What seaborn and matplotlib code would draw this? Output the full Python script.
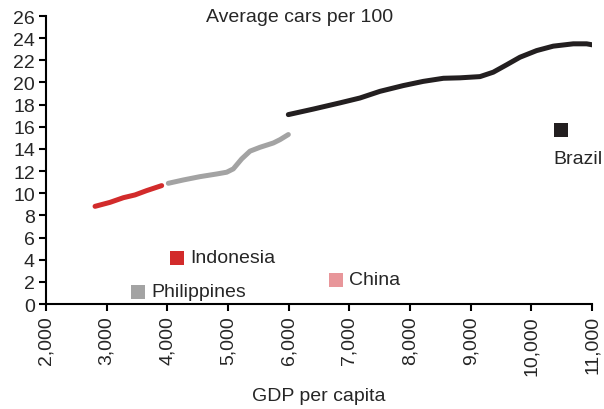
import matplotlib
matplotlib.use("Agg")
import matplotlib.pyplot as plt
import seaborn as sns
import pandas as pd

# Car ownership (cars per 100 people) against GDP per capita
indonesia_gdp = [2808, 3055, 3275, 3467, 3659, 3906]
indonesia_cars = [8.82, 9.18, 9.6, 9.85, 10.24, 10.69]

philippines_gdp = [4016, 4263, 4538, 4813, 4978, 5087, 5225, 5362, 5527, 5747, 5857, 5994]
philippines_cars = [10.9, 11.2, 11.5, 11.74, 11.9, 12.2, 13.1, 13.8, 14.15, 14.54, 14.84, 15.3]

brazil_gdp = [5994, 6406, 6845, 7175, 7504, 7888, 8218, 8550, 8823, 9153, 9372,
              9593, 9812, 10087, 10361, 10691, 10911, 11076]
brazil_cars = [17.1, 17.6, 18.16, 18.6, 19.2, 19.72, 20.1, 20.38, 20.42, 20.53, 20.93,
               21.6, 22.28, 22.88, 23.28, 23.49, 23.49, 23.33]

countries = ["Indonesia", "Philippines", "China", "Brazil"]
colors = {"Indonesia": "#d22b2b", "Philippines": "#a3a3a3",
          "China": "#e8969a", "Brazil": "#231f20"}

x_ticks = [2000, 3000, 4000, 5000, 6000, 7000, 8000, 9000, 10000, 11000]
y_ticks = list(range(0, 27, 2))

frames = []
for name, gx, cy in [("Indonesia", indonesia_gdp, indonesia_cars),
                     ("Philippines", philippines_gdp, philippines_cars),
                     ("Brazil", brazil_gdp, brazil_cars)]:
    frames.append(pd.DataFrame({"gdp": gx, "cars": cy, "country": name}))
df = pd.concat(frames, ignore_index=True)

sns.set_style("ticks")
plt.rcParams["font.family"] = ["Liberation Sans", "DejaVu Sans"]
FS = 14

fig = plt.figure(figsize=(6.04, 4.10), dpi=100)
ax = fig.add_axes([0.0762, 0.256, 0.904, 0.7025])

for name, sub in df.groupby("country"):
    sns.lineplot(data=sub, x="gdp", y="cars", color=colors[name], linewidth=3.6,
                 sort=False, estimator=None, ax=ax, legend=False,
                 solid_capstyle="round", solid_joinstyle="round")

# Key squares placed inside the plot area
key_pos = {"Indonesia": (4160, 4.15), "Philippines": (3516, 1.1),
           "China": (6780, 2.2), "Brazil": (10490, 15.75)}
for name in countries:
    px, py = key_pos[name]
    ax.scatter([px], [py], marker="s", s=110, color=colors[name], linewidths=0, zorder=3)
    if name == "Brazil":
        ax.text(px - 125, py - 2.6, name, ha="left", va="center", fontsize=FS,
                clip_on=False)
    else:
        ax.text(px + 220, py + 0.05, name, ha="left", va="center", fontsize=FS)

ax.text(0.464, 1.0, "Average cars per 100", transform=ax.transAxes,
        ha="center", va="center", fontsize=FS)

ax.set_xlim(2000, 11000)
ax.set_ylim(0, 26)
ax.set_xticks(x_ticks)
ax.set_xticklabels([f"{v:,}" for v in x_ticks], rotation=90, fontsize=FS)
ax.set_yticks(y_ticks)
ax.set_yticklabels([str(v) for v in y_ticks], fontsize=FS)
ax.set_xlabel("GDP per capita", fontsize=FS, labelpad=9)
ax.set_ylabel("")
ax.tick_params(direction="out", length=5, width=1.5, color="black", pad=3)
for side in ["left", "bottom"]:
    ax.spines[side].set_linewidth(1.5)
    ax.spines[side].set_color("black")
sns.despine(ax=ax)

fig.savefig("out.png", dpi=100)
